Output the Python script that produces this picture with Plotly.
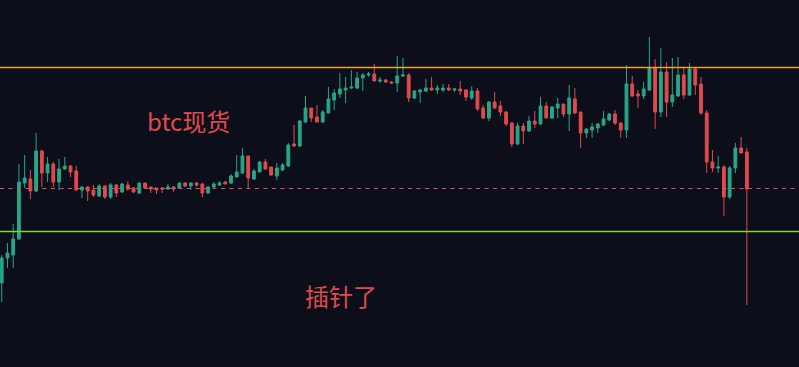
import plotly.graph_objects as go

opens = [66340,66840,66900,67220,68340,68420,68180,68980,68540,68720,68360,68620,68680,68580,68200,68260,68200,68080,68280,68060,
         68300,68160,68300,68240,68140,68340,68260,68240,68240,68220,68260,68240,68340,68280,68340,68320,68140,68260,68300,68360,
         68340,68460,68540,68880,68420,68560,68760,68660,68480,68600,68680,69120,69080,69560,69840,69660,69560,69740,70000,70120,
         70200,70240,70240,70440,70500,70520,70380,70400,70360,70340,70480,70500,70040,70160,70180,70240,70200,70200,70240,70200,
         70220,70200,70040,70180,69840,69640,69960,69880,69760,69540,69120,69480,69380,69580,69520,69880,69640,69840,69920,69720,
         70020,69760,69340,69400,69440,69500,69600,69720,69540,69400,70320,70120,70080,70200,70640,69760,70560,69960,70080,70500,
         70100,70620,70320,69740,68760,68640,68660,68060,68640,69040,68960]
highs = [66900,67140,67520,68720,68900,68600,69340,69000,68860,68760,68820,68860,68700,68680,68280,68280,68300,68320,68300,68340,
         68320,68340,68380,68260,68340,68340,68260,68240,68260,68320,68280,68340,68360,68340,68360,68340,68280,68360,68380,68380,
         68520,68900,69040,68880,68620,68780,68820,68660,68740,68740,69140,69500,69600,70080,69840,69900,69800,70260,70220,70540,
         70460,70600,70560,70540,70560,70720,70460,70420,70380,70880,70840,70540,70200,70220,70420,70460,70300,70320,70320,70240,
         70380,70220,70280,70240,69900,69980,70160,69980,69780,69560,69540,69540,69680,69780,70060,69960,69880,70040,69920,70300,
         70240,69760,69440,69540,69540,69780,69740,69800,69560,70700,70480,70200,70360,71260,70820,71040,70760,70840,70860,70660,
         70740,70640,70460,69800,69000,68880,68700,68680,69140,69260,69040]
lows = [65960,66640,66640,67200,68240,68020,68160,68260,68360,68260,68200,68600,68460,68200,68040,67980,68060,68060,68020,68020,
        68060,68140,68180,68140,68120,68220,68140,68120,68140,68200,68160,68240,68260,68200,68260,68060,68120,68240,68280,68320,
        68320,68460,68520,68220,68400,68560,68600,68480,68400,68580,68660,69060,69060,69540,69560,69560,69540,69740,69800,70040,
        69940,70220,70220,70180,70460,70380,70340,70340,70320,70160,70460,69960,70020,69940,70160,70180,70120,70160,70180,70160,
        70100,69980,70000,69780,69620,69580,69820,69680,69480,69060,69100,69120,69360,69440,69500,69640,69620,69640,69660,69380,
        69720,69040,69240,69240,69340,69480,69580,69500,69240,69240,70060,69840,70020,70180,69420,69660,69660,69860,70060,70020,
        70080,70100,69700,68540,68560,68540,67680,68020,68540,68940,65900]
closes = [66840,66940,67220,68360,68440,68180,68980,68540,68720,68360,68620,68680,68560,68200,68260,68180,68100,68280,68060,68300,
          68140,68320,68220,68160,68340,68240,68220,68200,68220,68260,68220,68340,68280,68340,68300,68140,68260,68320,68340,68320,
          68480,68560,68880,68440,68580,68760,68620,68500,68640,68700,69100,69080,69580,69840,69640,69560,69760,70020,70140,70220,
          70240,70260,70440,70500,70520,70380,70400,70360,70340,70480,70500,70040,70180,70200,70240,70200,70240,70240,70200,70220,
          70180,70060,70180,69820,69640,69960,69840,69760,69520,69120,69480,69380,69580,69520,69880,69640,69860,69920,69720,70040,
          69740,69340,69420,69460,69520,69620,69720,69540,69400,70320,70080,70080,70220,70640,69760,70560,69960,70100,70500,70100,
          70620,70300,69740,68760,68640,68660,68060,68640,69040,68940,68220]
bars = list(range(len(opens)))

resistance = 70650
support = 67370
reference_level = 68230
labels = ["btc现货", "插针了"]

UP = "#26a689"
DOWN = "#e04a4d"
BG = "#0c0f1a"

fig = go.Figure(go.Candlestick(
    x=bars, open=opens, high=highs, low=lows, close=closes,
    increasing=dict(line=dict(color=UP, width=1), fillcolor=UP),
    decreasing=dict(line=dict(color=DOWN, width=1), fillcolor=DOWN),
    whiskerwidth=0, hoverinfo="skip",
))

fig.add_hline(y=resistance, line=dict(color="rgb(245,155,55)", width=1.4))
fig.add_hline(y=support, line=dict(color="rgb(125,212,60)", width=1.4))
fig.add_hline(y=reference_level, line=dict(color="rgb(214,80,108)", width=1.2, dash="4px,4.5px"))

fig.add_annotation(text=labels[0], xref="paper", yref="paper", x=0.2365, y=0.673,
                   xanchor="center", yanchor="middle",
                   showarrow=False, font=dict(family="Noto Sans CJK SC", size=24, color="#e04a4d"))
fig.add_annotation(text=labels[1], xref="paper", yref="paper", x=0.4268, y=0.196,
                   xanchor="center", yanchor="middle",
                   showarrow=False, font=dict(family="Noto Sans CJK SC", size=24, color="#e04a4d"))

fig.update_layout(
    width=799, height=367, margin=dict(l=0, r=0, t=0, b=0),
    paper_bgcolor=BG, plot_bgcolor=BG, showlegend=False,
    xaxis=dict(visible=False, range=[-0.3, 139.1], rangeslider=dict(visible=False)),
    yaxis=dict(visible=False, range=[64660, 72000]),
)

fig.write_html("out.html")
